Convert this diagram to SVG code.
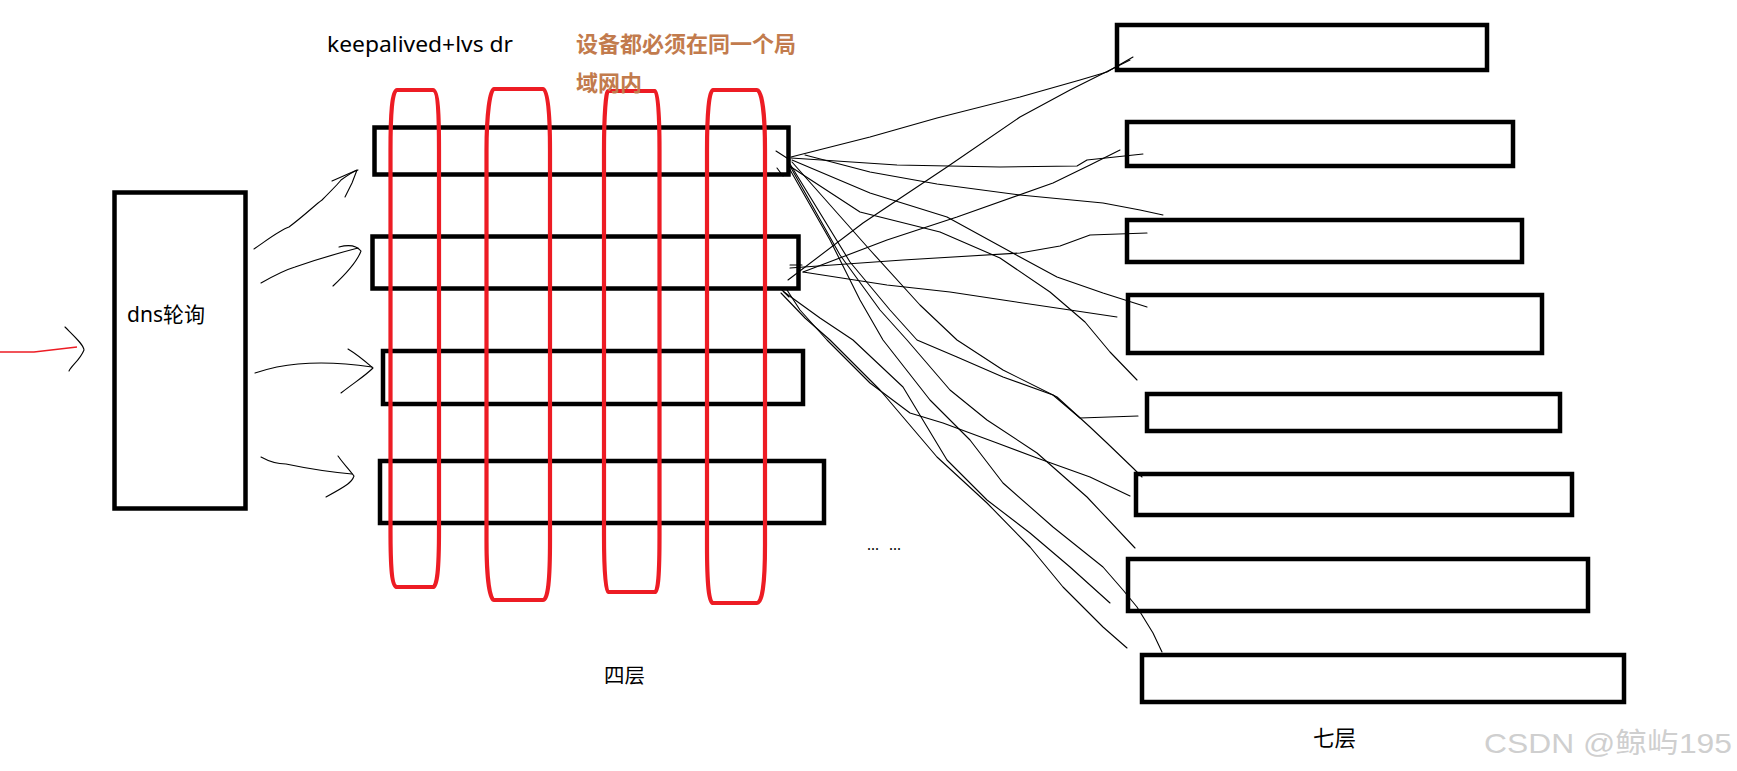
<svg xmlns="http://www.w3.org/2000/svg" width="1737" height="771" viewBox="0 0 1737 771">
<style>
.box{fill:none;stroke:#000;stroke-width:4.5}
.loop{fill:none;stroke:#ed1c24;stroke-width:4.2;stroke-linejoin:round}
.ln{fill:none;stroke:#000;stroke-width:1.1;stroke-linejoin:round;stroke-linecap:round}
.t{font-family:"Noto Sans","Noto Sans CJK SC",sans-serif;fill:#000}
</style>
<rect width="1737" height="771" fill="#fff"/>
<g id="dns"><rect class="box" x="114.5" y="192.5" width="131" height="316"/><text class="t" x="127" y="322" font-size="21">dns轮询</text></g>
<g id="lvs1"><rect class="box" x="374.5" y="127.5" width="414" height="47"/></g>
<g id="lvs2"><rect class="box" x="372.5" y="236.5" width="426" height="52"/></g>
<g id="lvs3"><rect class="box" x="383" y="351" width="420" height="53"/></g>
<g id="lvs4"><rect class="box" x="380" y="461" width="444" height="62"/></g>
<g id="loops">
<path class="loop" d="M397,90 L433,90 C438,90 439,115 439,150 L439,530 C439,570 437,587 433,587 L397,587 C392,587 390.5,570 390.5,530 L390.5,150 C390.5,115 392,90 397,90 Z"/>
<path class="loop" d="M494,89 L543,89 C548,89 550,115 550,150 L550,540 C550,580 548,600 543,600 L494,600 C490,600 486.5,580 486.5,540 L486.5,150 C486.5,115 490,89 494,89 Z"/>
<path class="loop" d="M608,91 L655,91 C658,91 659.5,115 659.5,150 L659.5,535 C659.5,575 658,592 655,592 L608,592 C606,592 604,575 604,535 L604,150 C604,115 606,91 608,91 Z"/>
<path class="loop" d="M713,90 L757,90 C762,90 765,115 765,150 L765,545 C765,585 762,603 757,603 L713,603 C709,603 707,585 707,545 L707,150 C707,115 709,90 713,90 Z"/>
</g>
<g id="labels">
<text class="t" x="327" y="52" font-size="21" textLength="186" lengthAdjust="spacingAndGlyphs">keepalived+lvs dr</text>
<text x="576" y="52" font-size="22" font-weight="bold" fill="#c27b4d" font-family="'Noto Sans CJK SC',sans-serif">设备都必须在同一个局</text>
<text x="576" y="91" font-size="22" font-weight="bold" fill="#c27b4d" font-family="'Noto Sans CJK SC',sans-serif">域网内</text>
<text class="t" x="604" y="683" font-size="20.5">四层</text>
<text class="t" x="867" y="550" font-size="15" fill="#1a1a5a" word-spacing="6">... ...</text>
<text class="t" x="1313" y="746" font-size="21.5">七层</text>
<text x="1484" y="753" font-size="28" fill="#cfcfcf" font-family="'Liberation Sans','Noto Sans CJK SC',sans-serif" textLength="248" lengthAdjust="spacingAndGlyphs">CSDN @鲸屿195</text>
</g>
<g id="r1"><rect class="box" x="1117" y="25" width="370" height="45"/></g>
<g id="r2"><rect class="box" x="1127" y="122" width="386" height="44"/></g>
<g id="r3"><rect class="box" x="1127" y="220" width="395" height="42"/></g>
<g id="r4"><rect class="box" x="1128" y="295" width="414" height="58"/></g>
<g id="r5"><rect class="box" x="1147" y="394" width="413" height="37"/></g>
<g id="r6"><rect class="box" x="1136" y="474" width="436" height="41"/></g>
<g id="r7"><rect class="box" x="1128" y="559" width="460" height="52"/></g>
<g id="r8"><rect class="box" x="1142" y="655" width="482" height="47"/></g>
<g id="connectors">
<path d="M0,352 L34,352 L77,347" fill="none" stroke="#ed1c24" stroke-width="1.3"/>
<path class="ln" d="M65,327 C75,337 84,345 84,350 C80,360 72,365 69,371"/>
<path class="ln" d="M254,249 C270,238 280,230 289,227 C305,215 315,205 322,200 C332,190 338,184 341,180 C348,175 354,171 358,170"/>
<path class="ln" d="M332,181 L357,170 L352,183 L345,197"/>
<path class="ln" d="M261,283 C275,275 285,270 295,267 C315,260 335,254 358,248"/>
<path class="ln" d="M339,247 C350,244 357,246 361,251 C357,262 348,272 333,286"/>
<path class="ln" d="M255,373 C270,368 285,365 298,364 C320,362 345,363 372,367"/>
<path class="ln" d="M348,349 C358,355 366,362 373,368 C365,376 355,382 341,393"/>
<path class="ln" d="M261,457 C270,462 280,464 286,464 C305,468 330,472 352,474"/>
<path class="ln" d="M338,456 C342,462 348,468 354,476 C352,482 348,485 326,497"/>
<path class="ln" d="M776,151 L790,160 M777,168 L783,176 M790,265 L802,265 M782,290 L789,297"/>
<path class="ln" d="M791,157 L870,137 L937,118 L1020,97 L1080,80 L1107,72 L1133,57"/>
<path class="ln" d="M788,280 L863,223 L947,167 L1020,117 L1070,90 L1110,70 L1130,60"/>
<path class="ln" d="M791,158 L897,165 L1000,167 L1077,166 L1087,160 L1143,154"/>
<path class="ln" d="M803,272 L887,240 L957,217 L1053,183 L1090,165 L1120,150"/>
<path class="ln" d="M805,155 L870,172 L937,184 L1020,195 L1103,203 L1140,210 L1163,215"/>
<path class="ln" d="M790,268 L903,260 L1020,253 L1060,246 L1090,235 L1147,233"/>
<path class="ln" d="M792,160 L870,193 L947,217 L1020,257 L1057,277 L1103,293 L1147,307"/>
<path class="ln" d="M803,272 L887,285 L950,292 L1003,300 L1070,310 L1117,317"/>
<path class="ln" d="M788,165 L860,212 L940,232 L1000,258 L1050,292 L1085,322 L1110,352 L1137,380"/>
<path class="ln" d="M790,164 L850,262 L890,310 L917,340 L957,357 L1003,377 L1053,395 L1080,418 L1138,416"/>
<path class="ln" d="M792,162 L870,250 L920,305 L957,340 L1003,370 L1057,397 L1090,427 L1107,443 L1133,468 L1142,477"/>
<path class="ln" d="M787,290 L800,310 L827,340 L870,383 L910,413 L943,423 L997,443 L1037,458 L1090,477 L1130,496"/>
<path class="ln" d="M790,166 L840,255 L880,310 L907,340 L950,390 L987,420 L1037,453 L1087,497 L1135,548"/>
<path class="ln" d="M784,292 L820,318 L853,340 L903,387 L947,460 L987,500 L1030,533 L1070,567 L1110,603"/>
<path class="ln" d="M789,168 L830,240 L860,300 L883,340 L930,400 L970,440 L1003,483 L1053,527 L1103,567 L1123,590 L1137,607 L1153,633 L1162,652"/>
<path class="ln" d="M781,293 L805,318 L830,340 L880,390 L937,457 L987,503 L1030,547 L1063,587 L1103,627 L1127,648"/>
</g>
</svg>
